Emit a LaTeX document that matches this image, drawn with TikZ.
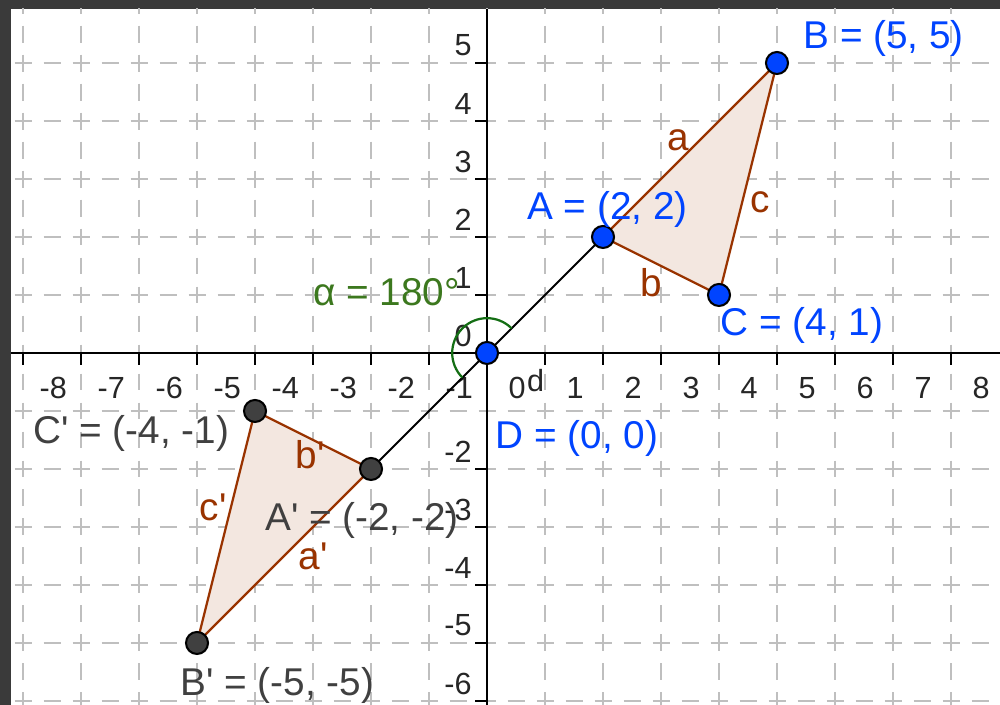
\documentclass[tikz,border=0pt]{standalone}
\usepackage{fontspec}
\setmainfont{Liberation Sans}
\usetikzlibrary{calc}
\definecolor{ggblue}{RGB}{0,68,255}
\definecolor{ggdark}{RGB}{64,64,64}
\definecolor{ggbrown}{RGB}{153,51,0}
\definecolor{ggarc}{RGB}{20,110,20}
\definecolor{gglabgreen}{RGB}{60,120,30}
\definecolor{ggframe}{RGB}{58,58,58}
\newcommand{\pr}{\textquotesingle}

\begin{document}
\begin{tikzpicture}[font=\fontsize{19}{22}\selectfont,
  gridline/.style={black!25, line width=1pt, dash pattern=on 0.293cm off 0.207cm},
  axisline/.style={black, line width=1.1pt},
  side/.style={ggbrown, line width=1.1pt},
  tri/.style={fill=ggbrown!12},
  bluept/.style={circle, fill=ggblue, draw=black, line width=1pt, inner sep=0pt, minimum size=0.38cm},
  darkpt/.style={circle, fill=ggdark, draw=black, line width=1pt, inner sep=0pt, minimum size=0.38cm},
  axislab/.style={font=\fontsize{15}{17}\selectfont, text=black!85, inner sep=0pt},
  ptlab/.style={anchor=west, inner sep=0pt},
  sidelab/.style={text=ggbrown, inner sep=0pt}]
  %% frame and canvas
  \fill[ggframe] (-8.397,-6.069) rectangle (8.845,6.086);
  \fill[white] (-8.207,-6.069) rectangle (8.845,5.931);
  \useasboundingbox (-8.397,-6.069) rectangle (8.845,6.086);

  %% dashed grid
  \begin{scope}
    \clip (-8.207,-6.069) rectangle (8.845,5.931);
    \foreach \x in {-8,...,8}{
      \draw[gridline] (\x,7.146) -- (\x,-7);
    }
    \foreach \y in {-6,...,5}{
      \draw[gridline] (-9.146,\y) -- (9,\y);
    }
  \end{scope}

  %% axes, ticks and numbers
  \draw[axisline] (-8.207,0) -- (8.845,0);
  \draw[axisline] (0,-6.069) -- (0,5.931);
  \foreach \x in {-8,...,8}{
    \ifnum\x=0\else\draw[axisline] (\x,0) -- (\x,-0.2);\fi
    \node[axislab] (xl\x) at (\x+0.52,-0.6) {\x};
  }
  \foreach \y in {-6,-5,-4,-3,-2,0,1,2,3,4,5}{
    \ifnum\y=0\else\draw[axisline] (0,\y) -- (-0.2,\y);\fi
    \node[axislab, anchor=east] (yl\y) at (-0.26,\y+0.3) {\y};
  }

  %% points
  \coordinate (A) at (2,2);
  \coordinate (B) at (5,5);
  \coordinate (C) at (4,1);
  \coordinate (D) at (0,0);
  \coordinate (A') at (-2,-2);
  \coordinate (B') at (-5,-5);
  \coordinate (C') at (-4,-1);

  %% triangles
  \fill[tri] (A) -- (B) -- (C) -- cycle;
  \fill[tri] (A') -- (B') -- (C') -- cycle;
  \draw[side] (A) -- (B) -- (C) -- (A);
  \draw[side] (A') -- (B') -- (C') -- (A');
  \draw[black, line width=0.9pt] (A') -- (D) -- (A);

  %% angle
  \draw[ggarc, line width=1.1pt] (D) ++(45:0.6) arc[start angle=45, end angle=225, radius=0.6];

  \node[bluept] (ptA) at (A) {};
  \node[bluept] (ptB) at (B) {};
  \node[bluept] (ptC) at (C) {};
  \node[bluept] (ptD) at (D) {};
  \node[darkpt] (ptA') at (A') {};
  \node[darkpt] (ptB') at (B') {};
  \node[darkpt] (ptC') at (C') {};

  %% labels
  \node[ptlab, text=ggblue] (labB) at (5.45,5.43) {B = (5, 5)};
  \node[ptlab, text=ggblue] (labA) at (0.69,2.47) {A = (2, 2)};
  \node[ptlab, text=ggblue] (labC) at (4.02,0.47) {C = (4, 1)};
  \node[ptlab, text=ggblue] (labD) at (0.14,-1.47) {D = (0, 0)};
  \node[ptlab, text=ggdark] (labC') at (-7.83,-1.38) {C\pr{} = (-4, -1)};
  \node[ptlab, text=ggdark] (labA') at (-3.83,-2.88) {A\pr{} = (-2, -2)};
  \node[ptlab, text=ggdark] (labB') at (-5.29,-5.74) {B\pr{} = (-5, -5)};
  \node[ptlab, text=gglabgreen] (labal) at (-3.0,1.05) {α = 180°};

  \node[sidelab] (sa) at (3.29,3.67) {a};
  \node[sidelab] (sc) at (4.71,2.59) {c};
  \node[sidelab] (sb) at (2.83,1.22) {b};
  \node[sidelab] (sb') at (-3.05,-1.76) {b\pr};
  \node[sidelab] (sc') at (-4.72,-2.66) {c\pr};
  \node[sidelab] (sa') at (-3.0,-3.5) {a\pr};
  \node[axislab] (sd) at (0.84,-0.47) {d};
\end{tikzpicture}
\end{document}
